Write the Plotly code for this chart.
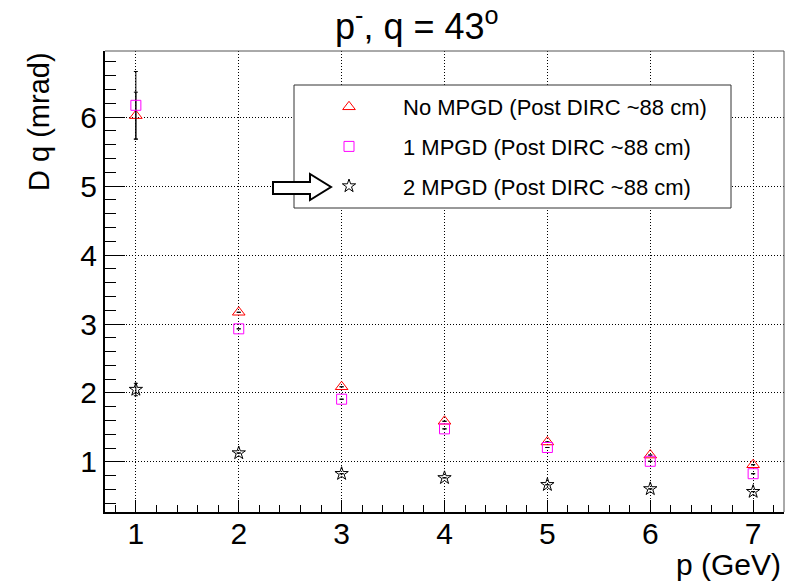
import plotly.graph_objects as go

# ---- data ----
p_gev = [1, 2, 3, 4, 5, 6, 7]
no_mpgd = [6.02, 3.17, 2.09, 1.59, 1.29, 1.10, 0.96]
no_mpgd_err = [0.34, None, None, None, None, None, None]
one_mpgd = [6.17, 2.93, 1.91, 1.48, 1.21, 1.01, 0.83]
one_mpgd_err = [0.49, None, None, None, None, None, None]
two_mpgd = [2.05, 1.13, 0.83, 0.77, 0.67, 0.61, 0.57]
two_mpgd_err = [0.09, None, None, None, None, None, None]

names = ["No MPGD (Post DIRC ~88 cm)", "1 MPGD (Post DIRC ~88 cm)", "2 MPGD (Post DIRC ~88 cm)"]
x_ticks = [1, 2, 3, 4, 5, 6, 7]
y_ticks = [1, 2, 3, 4, 5, 6]

W, H = 786, 582
ML, MR, MT, MB = 105, 2, 51, 70
PW, PH = W - ML - MR, H - MT - MB


def px_x(v):
    return (v - ML) / PW


def px_y(v):
    return (H - MB - v) / PH


FONT = "Liberation Sans, Arial, sans-serif"

fig = go.Figure()
series = [
    (no_mpgd, no_mpgd_err, "triangle-up-open", "#ff0000", 11),
    (one_mpgd, one_mpgd_err, "square-open", "#ff00ff", 10),
    (two_mpgd, two_mpgd_err, "star-open", "#000000", 10),
]
for i, (vals, errs, sym, col, sz) in enumerate(series):
    fig.add_trace(go.Scatter(
        x=p_gev, y=vals, mode="markers", name=names[i], legendgroup=f"g{i}",
        marker=dict(symbol=sym, color=col, size=sz, line=dict(color=col, width=1)),
        error_y=dict(type="data", array=errs, visible=True, color="black", thickness=1, width=2),
    ))

# legend box and arrow (decorations)
shapes = [
    dict(type="rect", xref="paper", yref="paper", x0=px_x(294), x1=px_x(731), y0=px_y(208), y1=px_y(85),
         line=dict(color="#333333", width=1), fillcolor="white", layer="above"),
]
arrow_pts = [(273, 182), (310, 182), (310, 174), (331, 187), (310, 200), (310, 194), (273, 194)]
path = "M " + " L ".join(f"{px_x(a):.5f},{px_y(b):.5f}" for a, b in arrow_pts) + " Z"
shapes.append(dict(type="path", xref="paper", yref="paper", path=path,
                   line=dict(color="black", width=2), fillcolor="white", layer="above"))
# top/right frame
shapes.append(dict(type="line", xref="paper", yref="paper", x0=0, x1=1, y0=1, y1=1,
                   line=dict(color="#555555", width=1)))
shapes.append(dict(type="line", xref="paper", yref="paper", x0=1, x1=1, y0=0, y1=1,
                   line=dict(color="#555555", width=1)))

annotations = [
    dict(text="p<sup>-</sup>, q = 43<sup>o</sup>", xref="paper", yref="paper",
         x=px_x(417), y=px_y(24), xanchor="center", yanchor="middle", showarrow=False,
         font=dict(family=FONT, size=36, color="black")),
    dict(text="D q (mrad)", xref="paper", yref="paper", x=px_x(39), y=px_y(122),
         xanchor="center", yanchor="middle", textangle=-90, showarrow=False,
         font=dict(family=FONT, size=29, color="black")),
    dict(text="p (GeV)", xref="paper", yref="paper", x=px_x(783), y=px_y(564),
         xanchor="right", yanchor="middle", showarrow=False,
         font=dict(family=FONT, size=30, color="black")),
]

fig.update_layout(
    width=W, height=H, margin=dict(l=ML, r=MR, t=MT, b=MB),
    paper_bgcolor="white", plot_bgcolor="white",
    font=dict(family=FONT, color="black"),
    shapes=shapes, annotations=annotations,
    showlegend=True,
    legend=dict(x=px_x(295), y=px_y(86), xanchor="left", yanchor="top",
                bgcolor="rgba(0,0,0,0)", borderwidth=0, itemwidth=98,
                traceorder="grouped", tracegroupgap=8,
                font=dict(family=FONT, size=22, color="black")),
    xaxis=dict(range=[0.7, 7.3], tickvals=x_ticks, ticktext=[str(v) for v in x_ticks],
               ticks="inside", ticklen=12, tickwidth=1, tickcolor="black",
               showline=True, linecolor="black", linewidth=2,
               showgrid=True, gridcolor="black", gridwidth=1, griddash="1px,2px",
               zeroline=False, tickfont=dict(family=FONT, size=30),
               minor=dict(dtick=0.2, tick0=0, ticks="inside", ticklen=7, tickwidth=1,
                          tickcolor="black", showgrid=False)),
    yaxis=dict(range=[0.275, 6.957], tickvals=y_ticks, ticktext=[str(v) for v in y_ticks],
               ticks="inside", ticklen=20, tickwidth=1, tickcolor="black",
               showline=True, linecolor="black", linewidth=2,
               showgrid=True, gridcolor="black", gridwidth=1, griddash="1px,2px",
               zeroline=False, tickfont=dict(family=FONT, size=30),
               minor=dict(dtick=0.2, tick0=0, ticks="inside", ticklen=11, tickwidth=1,
                          tickcolor="black", showgrid=False)),
)
try:
    fig.update_xaxes(ticklabelstandoff=-6)
except Exception:
    pass

fig.write_html("out.html")
